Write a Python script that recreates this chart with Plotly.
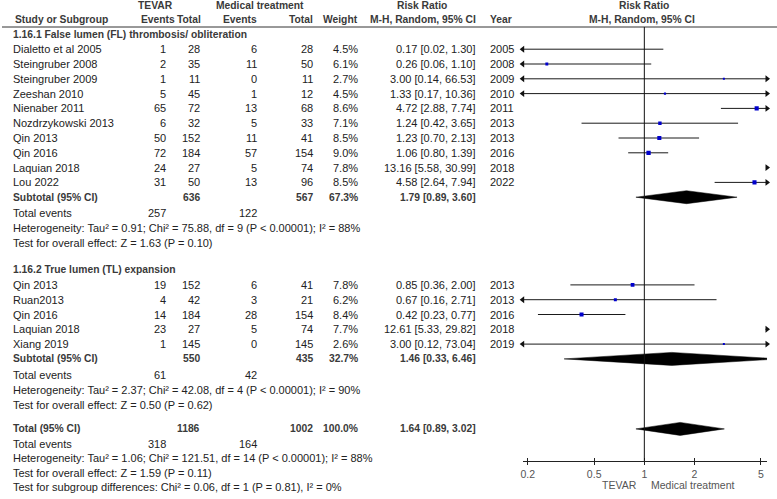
import math
import plotly.graph_objects as go

W, H = 777, 499

# ---------------- data ----------------
g1_title = "1.16.1 False lumen (FL) thrombosis/ obliteration"
g1_names = ["Dialetto et al 2005", "Steingruber 2008", "Steingruber 2009", "Zeeshan 2010",
            "Nienaber 2011", "Nozdrzykowski 2013", "Qin 2013", "Qin 2016", "Laquian 2018", "Lou 2022"]
g1_tevar_events = [1, 2, 1, 5, 65, 6, 50, 72, 24, 31]
g1_tevar_total = [28, 35, 11, 45, 72, 32, 152, 184, 27, 50]
g1_med_events = [6, 11, 0, 1, 13, 5, 11, 57, 5, 13]
g1_med_total = [28, 50, 11, 12, 68, 33, 41, 154, 74, 96]
g1_weight = [4.5, 6.1, 2.7, 4.5, 8.6, 7.1, 8.5, 9.0, 7.8, 8.5]
g1_rr = [0.17, 0.26, 3.00, 1.33, 4.72, 1.24, 1.23, 1.06, 13.16, 4.58]
g1_lo = [0.02, 0.06, 0.14, 0.17, 2.88, 0.42, 0.70, 0.80, 5.58, 2.64]
g1_hi = [1.30, 1.10, 66.53, 10.36, 7.74, 3.65, 2.13, 1.39, 30.99, 7.94]
g1_year = [2005, 2008, 2009, 2010, 2011, 2013, 2013, 2016, 2018, 2022]
g1_sub = {"tt": 636, "mt": 567, "w": "67.3%", "rr": 1.79, "lo": 0.89, "hi": 3.60,
          "te": 257, "me": 122}
g1_het = "Heterogeneity: Tau² = 0.91; Chi² = 75.88, df = 9 (P < 0.00001); I² = 88%"
g1_test = "Test for overall effect: Z = 1.63 (P = 0.10)"

g2_title = "1.16.2 True lumen (TL) expansion"
g2_names = ["Qin 2013", "Ruan2013", "Qin 2016", "Laquian 2018", "Xiang 2019"]
g2_tevar_events = [19, 4, 14, 23, 1]
g2_tevar_total = [152, 42, 184, 27, 145]
g2_med_events = [6, 3, 28, 5, 0]
g2_med_total = [41, 21, 154, 74, 145]
g2_weight = [7.8, 6.2, 8.4, 7.7, 2.6]
g2_rr = [0.85, 0.67, 0.42, 12.61, 3.00]
g2_lo = [0.36, 0.16, 0.23, 5.33, 0.12]
g2_hi = [2.00, 2.71, 0.77, 29.82, 73.04]
g2_year = [2013, 2013, 2016, 2018, 2019]
g2_sub = {"tt": 550, "mt": 435, "w": "32.7%", "rr": 1.46, "lo": 0.33, "hi": 6.46,
          "te": 61, "me": 42}
g2_het = "Heterogeneity: Tau² = 2.37; Chi² = 42.08, df = 4 (P < 0.00001); I² = 90%"
g2_test = "Test for overall effect: Z = 0.50 (P = 0.62)"

tot = {"tt": 1186, "mt": 1002, "w": "100.0%", "rr": 1.64, "lo": 0.89, "hi": 3.02,
       "te": 318, "me": 164}
tot_het = "Heterogeneity: Tau² = 1.06; Chi² = 121.51, df = 14 (P < 0.00001); I² = 88%"
tot_test = "Test for overall effect: Z = 1.59 (P = 0.11)"
tot_sub = "Test for subgroup differences: Chi² = 0.06, df = 1 (P = 0.81), I² = 0%"

tick_vals = [0.2, 0.5, 1, 2, 5]
tick_text = ["0.2", "0.5", "1", "2", "5"]
favours_left = "TEVAR"
favours_right = "Medical treatment"

# ---------------- layout helpers ----------------
FONT = "Liberation Sans, Arial, sans-serif"
TXT = "#222222"
BOLD = "#3a3a3a"
FS = 11
FSB = 10.3
LOG_MIN, LOG_MAX = -0.73, 0.736
XMIN, XMAX = 10 ** LOG_MIN, 10 ** LOG_MAX

# column anchors (pixels)
C_NAME = 10
C_TE, C_TT, C_ME, C_MT, C_W, C_RR, C_YR = 165, 200, 257, 313, 358, 476, 488

annotations = []
shapes = []
traces = []


def txt(x, y, s, anchor="left", bold=False, color=None, size=None):
    annotations.append(dict(
        x=x / W, y=y, xref="paper", yref="y", text=("<b>%s</b>" % s) if bold else s,
        showarrow=False, xanchor=anchor, yanchor="middle", borderpad=0,
        font=dict(family=FONT, size=size or (FSB if bold else FS),
                  color=color or (BOLD if bold else TXT))))


def rr_text(r, lo, hi):
    return "%.2f [%.2f, %.2f]" % (r, lo, hi)


def study_row(y, name, te, tt, me, mt, w, r, lo, hi, yr):
    txt(C_NAME, y, name)
    txt(C_TE, y, str(te), "right")
    txt(C_TT, y, str(tt), "right")
    txt(C_ME, y, str(me), "right")
    txt(C_MT, y, str(mt), "right")
    txt(C_W, y, "%.1f%%" % w, "right")
    txt(C_RR, y, rr_text(r, lo, hi), "right")
    txt(C_YR, y, str(yr), "left")
    # CI line (clipped to axis range) + arrows
    a = max(lo, XMIN)
    b = min(hi, XMAX)
    if a < b:
        traces.append(go.Scatter(x=[a, b], y=[y, y], mode="lines",
                                 line=dict(color="#1a1a1a", width=1),
                                 hoverinfo="skip", showlegend=False))
    if lo < XMIN:
        traces.append(go.Scatter(x=[XMIN], y=[y], mode="markers", cliponaxis=False,
                                 marker=dict(symbol="triangle-left", size=6, color="#111"),
                                 hoverinfo="skip", showlegend=False))
    if hi > XMAX:
        traces.append(go.Scatter(x=[XMAX], y=[y], mode="markers", cliponaxis=False,
                                 marker=dict(symbol="triangle-right", size=6, color="#111"),
                                 hoverinfo="skip", showlegend=False))
    traces.append(go.Scatter(x=[r], y=[y], mode="markers",
                             marker=dict(symbol="square", size=max(2.0, w * 0.48),
                                         color="#0000cc", line=dict(width=0)),
                             hoverinfo="skip", showlegend=False))


def diamond(y, r, lo, hi, h=6.5):
    traces.append(go.Scatter(x=[lo, r, hi, r, lo], y=[y, y - h, y, y + h, y],
                             mode="lines", fill="toself", fillcolor="#000",
                             line=dict(color="#000", width=0.5),
                             hoverinfo="skip", showlegend=False))


def summary_row(y, label, d):
    txt(C_NAME, y, label, bold=True)
    txt(C_TT, y, str(d["tt"]), "right", bold=True)
    txt(C_MT, y, str(d["mt"]), "right", bold=True)
    txt(C_W, y, d["w"], "right", bold=True)
    txt(C_RR, y, rr_text(d["rr"], d["lo"], d["hi"]), "right", bold=True)
    diamond(y, d["rr"], d["lo"], d["hi"])


def events_row(y, d):
    txt(C_NAME, y, "Total events")
    txt(C_TE, y, str(d["te"]), "right")
    txt(C_ME, y, str(d["me"]), "right")


# ---------------- headers ----------------
txt(154, 5, "TEVAR", "center", bold=True)
txt(259, 5, "Medical treatment", "center", bold=True)
txt(421, 5, "Risk Ratio", "center", bold=True)
txt(644, 5, "Risk Ratio", "center", bold=True)
y_h2 = 19
txt(12, y_h2, "Study or Subgroup", bold=True)
txt(174, y_h2, "Events", "right", bold=True)
txt(201, y_h2, "Total", "right", bold=True)
txt(257, y_h2, "Events", "right", bold=True)
txt(313, y_h2, "Total", "right", bold=True)
txt(358, y_h2, "Weight", "right", bold=True)
txt(476, y_h2, "M-H, Random, 95% CI", "right", bold=True)
txt(488, y_h2, "Year", "left", bold=True)
txt(642, y_h2, "M-H, Random, 95% CI", "center", bold=True)
HEADER_LINE = 27
shapes.append(dict(type="line", xref="paper", yref="y", x0=0, x1=1,
                   y0=HEADER_LINE, y1=HEADER_LINE, line=dict(color="#333", width=1)))

STEP = 14.8
y = 34
groups = [
    (g1_title, g1_names, g1_tevar_events, g1_tevar_total, g1_med_events, g1_med_total,
     g1_weight, g1_rr, g1_lo, g1_hi, g1_year, g1_sub, g1_het, g1_test),
    (g2_title, g2_names, g2_tevar_events, g2_tevar_total, g2_med_events, g2_med_total,
     g2_weight, g2_rr, g2_lo, g2_hi, g2_year, g2_sub, g2_het, g2_test),
]
for gi, (title, names, te, tt, me, mt, w, r, lo, hi, yr, sub, het, test) in enumerate(groups):
    txt(C_NAME, y, title, bold=True)
    y += 15.2
    for i in range(len(names)):
        study_row(y, names[i], te[i], tt[i], me[i], mt[i], w[i], r[i], lo[i], hi[i], yr[i])
        y += STEP
    summary_row(y, "Subtotal (95% CI)", sub)
    y += 16
    events_row(y, sub)
    y += 15
    txt(C_NAME, y, het)
    y += 15
    txt(C_NAME, y, test)
    y += 26.5 if gi == 0 else 24

summary_row(y, "Total (95% CI)", tot)
y += 15
events_row(y, tot)
y += 14.5
txt(C_NAME, y, tot_het)
y += 14.5
txt(C_NAME, y, tot_test)
y += 14.5
txt(C_NAME, y, tot_sub)

AXIS_Y = 461
shapes.append(dict(type="line", xref="x", yref="y", x0=1, x1=1, y0=HEADER_LINE, y1=AXIS_Y,
                   line=dict(color="#111", width=1)))

txt(638, 485, favours_left, "right", color="#555", size=10.5)
txt(650, 485, favours_right, "left", color="#555", size=10.5)

fig = go.Figure(traces)
# empty trace so the overlay axis (inner tick halves) gets drawn
fig.add_trace(go.Scatter(x=[1], y=[-50], xaxis="x2", yaxis="y", mode="markers",
                         marker=dict(size=1, opacity=0), hoverinfo="skip", showlegend=False))

xdom = [522 / W, 767 / W]
axpos = 1 - AXIS_Y / H
fig.update_layout(
    width=W, height=H, margin=dict(l=0, r=0, t=0, b=0),
    paper_bgcolor="white", plot_bgcolor="rgba(0,0,0,0)",
    showlegend=False,
    xaxis=dict(type="log", range=[LOG_MIN, LOG_MAX], domain=xdom, anchor="free", position=axpos,
               tickvals=tick_vals, ticktext=tick_text, ticks="outside", ticklen=3,
               tickcolor="#222", showline=True, linecolor="#222", linewidth=1,
               showgrid=False, zeroline=False,
               tickfont=dict(family=FONT, size=10.5, color="#555")),
    xaxis2=dict(type="log", range=[LOG_MIN, LOG_MAX], domain=xdom, anchor="free", position=axpos,
                overlaying="x", tickvals=tick_vals, ticks="inside", ticklen=3, tickcolor="#222",
                showticklabels=False, showline=False, showgrid=False, zeroline=False),
    yaxis=dict(range=[H, 0], domain=[0, 1], visible=False, fixedrange=True),
    annotations=annotations, shapes=shapes,
)
fig.write_html("out.html", config={"displayModeBar": False},
               post_script="document.body.style.margin='0';document.body.style.padding='0';")
